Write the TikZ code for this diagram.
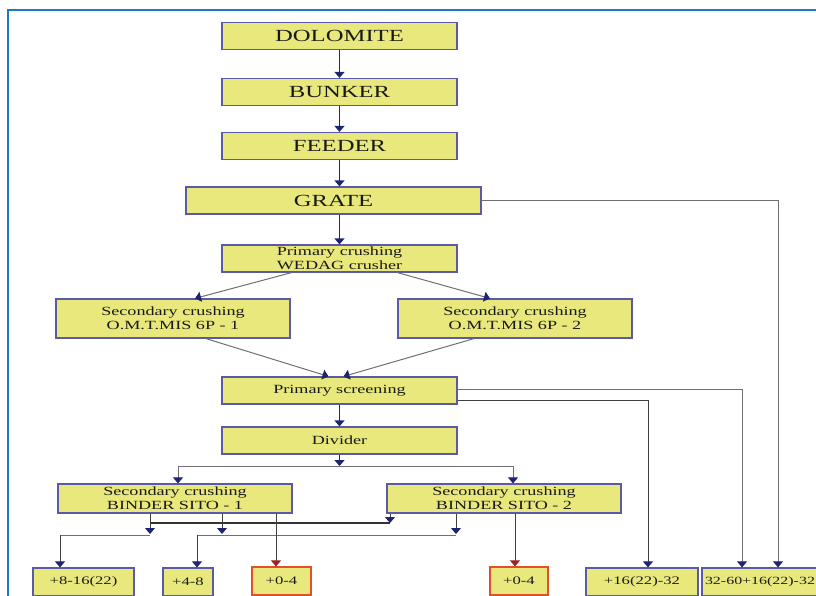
\documentclass[tikz,border=0pt]{standalone}
\usepackage{fontspec}
\setmainfont{Liberation Serif}
\newfontfamily\boxfont[FakeStretch=1.45]{Liberation Serif}
\usepackage{tikz}
\usetikzlibrary{arrows.meta}
\definecolor{boxfill}{HTML}{E8E87C}
\definecolor{boxline}{HTML}{5A5AA8}
\definecolor{redline}{HTML}{E0502A}
\definecolor{tipblue}{HTML}{1E2470}
\definecolor{tipred}{HTML}{A02020}
\definecolor{frameblue}{HTML}{1C78C8}
\definecolor{linegray}{HTML}{707070}
\tikzstyle{box}=[draw=boxline,fill=boxfill,line width=1.2pt,minimum width=235pt,minimum height=27pt,inner sep=0pt,text=black!90,align=center,font=\boxfont\fontsize{12.5}{14}\selectfont]
\tikzstyle{big}=[font=\boxfont\fontsize{17}{18}\selectfont]
\tikzstyle{product}=[box,minimum height=28pt,font=\boxfont\fontsize{11.5}{12}\selectfont]
\tikzstyle{finebox}=[product,draw=redline]
\tikzstyle{arrow}=[-{Triangle[width=10pt,length=6pt,color=tipblue]},line width=1pt,draw=black!75]
\tikzstyle{mainarrow}=[arrow,line width=1.2pt,draw=tipblue]
\tikzstyle{sidearrow}=[arrow,draw=linegray]
\tikzstyle{redarrow}=[-{Triangle[width=10pt,length=6pt,color=tipred]},line width=1pt,draw=black!75]

\begin{document}
\begin{tikzpicture}[x=1pt,y=-1pt]
  \useasboundingbox (0,0) rectangle (816,595);
  \clip (0,0) rectangle (816,595);
  \draw[frameblue,line width=2.5pt] (8,10) rectangle (850,640);

  \node[box,big] at (339.5,36) (dolomite) {DOLOMITE};
  \node[box,big] at (339.5,92) (bunker) {BUNKER};
  \node[box,big] at (339.5,146) (feeder) {FEEDER};
  \node[box,big,minimum width=295pt] at (333.5,200.5) (grate) {GRATE};
  \node[box] at (339.5,258.5) (primary) {Primary crushing\\WEDAG crusher};
  \node[box,minimum width=234pt,minimum height=39pt] at (173,318.5) (omt1) {Secondary crushing\\O.M.T.MIS 6P - 1};
  \node[box,minimum width=234pt,minimum height=39pt] at (515,318.5) (omt2) {Secondary crushing\\O.M.T.MIS 6P - 2};
  \node[box] at (339.5,390.5) (screening) {Primary screening};
  \node[box] at (339.5,440.5) (divider) {Divider};
  \node[box,minimum width=234pt,minimum height=29pt] at (175,498.5) (binder1) {Secondary crushing\\BINDER SITO - 1};
  \node[box,minimum width=234pt,minimum height=29pt] at (504,498.5) (binder2) {Secondary crushing\\BINDER SITO - 2};

  \node[product,minimum width=101pt] at (83.5,582) (p816) {+8-16(22)};
  \node[product,minimum width=50pt] at (188,582) (p48) {+4-8};
  \node[finebox,minimum width=59pt] at (281.5,581) (p04a) {+0-4};
  \node[finebox,minimum width=58pt] at (519,581) (p04b) {+0-4};
  \node[product,minimum width=112pt] at (642,582) (p1632) {+16(22)-32};
  \node[product,minimum width=116pt,font=\boxfont\fontsize{11}{12}\selectfont] at (760,582) (p3260) {32-60+16(22)-32};

  \draw[mainarrow] (dolomite) -- (bunker);
  \draw[mainarrow] (bunker) -- (feeder);
  \draw[mainarrow] (feeder.south) -- (feeder.south |- grate.north);
  \draw[mainarrow] (grate.south -| primary.north) -- (primary.north);
  \draw[sidearrow] ([xshift=-48pt]primary.south) -- ([xshift=22pt]omt1.north);
  \draw[sidearrow] ([xshift=58pt]primary.south) -- ([xshift=-25pt]omt2.north);
  \draw[sidearrow] ([xshift=33pt]omt1.south) -- ([xshift=-11pt]screening.north);
  \draw[sidearrow] ([xshift=-41pt]omt2.south) -- ([xshift=4pt]screening.north);
  \draw[mainarrow] (screening) -- (divider);

  \coordinate (split) at (339.5,466);
  \coordinate (splitl) at (178,466);
  \coordinate (splitr) at (513,466);
  \draw[mainarrow] (divider) -- (split);
  \draw[linegray,line width=1pt] (splitl) -- (splitr);
  \draw[sidearrow] (splitl) -- (splitl |- binder1.north);
  \draw[sidearrow] (splitr) -- (splitr |- binder2.north);

  \draw[sidearrow] (grate.east) -| ([xshift=18pt]p3260.north);
  \draw[sidearrow] ([yshift=1.5pt]screening.east) -| ([xshift=-18pt]p3260.north);
  \draw[arrow] ([yshift=-9.5pt]screening.east) -| ([xshift=6pt]p1632.north);

  \coordinate (j1) at (150,534);
  \coordinate (j2) at (222,534);
  \coordinate (j3) at (390,523);
  \coordinate (j4) at (456,534);
  \coordinate (k1) at (60,535);
  \coordinate (k2) at (197,535);
  \draw[black!80,line width=2pt] (j1 |- j3) -- (j3);
  \draw[arrow] (binder1.south -| j1) -- (j1);
  \draw[arrow] (binder1.south -| j2) -- (j2);
  \draw[arrow] (binder2.south -| j3) -- (j3);
  \draw[arrow] (binder2.south -| j4) -- (j4);
  \draw[linegray,line width=1pt] (k1) -- (k1 -| j1);
  \draw[linegray,line width=1pt] (k2) -- (k2 -| j4);
  \draw[arrow] (k1) -- (k1 |- p816.north);
  \draw[arrow] (k2) -- (k2 |- p48.north);
  \draw[redarrow] ([xshift=-5.5pt]p04a.north |- binder1.south) -- ([xshift=-5.5pt]p04a.north);
  \draw[redarrow] ([xshift=-4pt]p04b.north |- binder2.south) -- ([xshift=-4pt]p04b.north);
\end{tikzpicture}
\end{document}
